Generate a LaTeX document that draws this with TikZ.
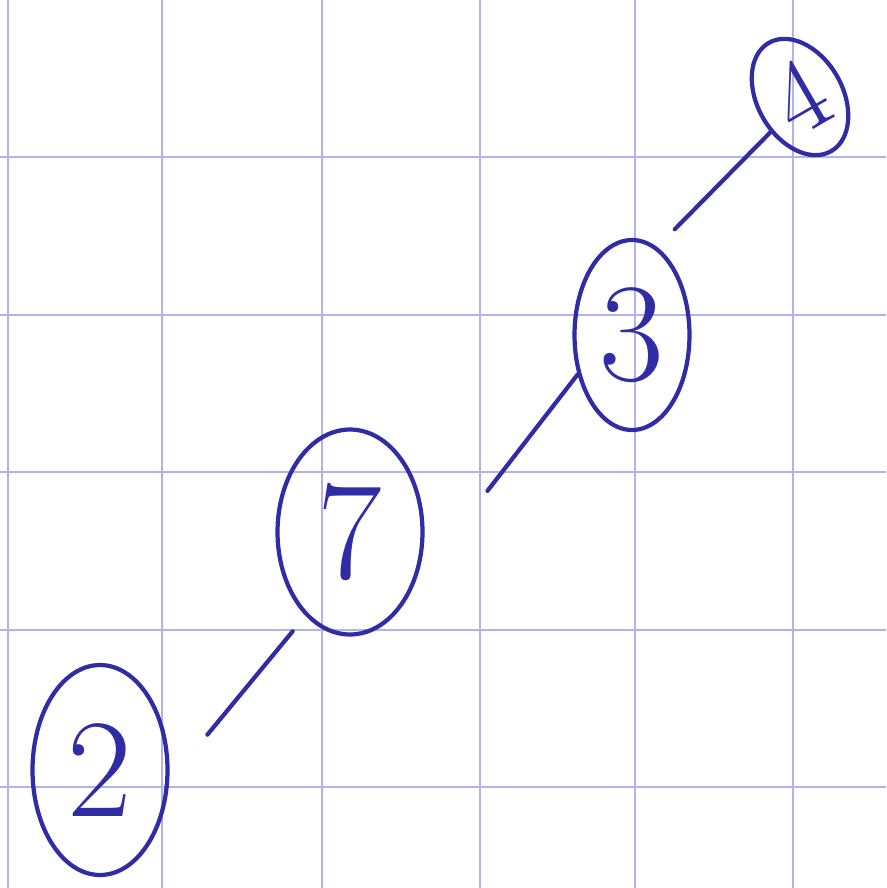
\documentclass[tikz,border=0pt]{standalone}
\usetikzlibrary{shapes.geometric}
\definecolor{pen}{RGB}{48,44,165}
\definecolor{gridc}{RGB}{178,178,236}
\tikzset{
  gridline/.style={draw=gridc,line width=1.3pt},
  ring/.style={ellipse,draw=pen,line width=2.4pt,inner sep=0pt,text=pen,font=\fontsize{80}{80}\selectfont},
  link/.style={draw=pen,line width=2.4pt,line cap=round}
}
\begin{document}
\begin{tikzpicture}[x=0.02cm,y=-0.02cm]
\fill[white] (0,0) rectangle (886,888);
\useasboundingbox (0,0) rectangle (886,888);
\foreach \gx in {8,162,322,480,635,793} \draw[gridline] (\gx,0) -- (\gx,888);
\foreach \gy in {157,315,472,630,787} \draw[gridline] (0,\gy) -- (886,\gy);
\node[ring,minimum width=2.7cm,minimum height=4.2cm] (n2) at (100,770) {2};
\node[ring,minimum width=2.9cm,minimum height=4.1cm] (n7) at (350,532) {7};
\node[ring,minimum width=2.3cm,minimum height=3.8cm] (n3) at (632,335) {3};
\node[ring,minimum width=1.7cm,minimum height=2.5cm,rotate=30,font=\fontsize{60}{60}\selectfont] (n4) at (800,97) {4};
\draw[link,shorten <=1.2cm,shorten >=0.4cm] (n2.-9) -- (n7.242);
\draw[link,shorten <=2.4cm] (n7.-40) -- (n3.216);
\draw[link,shorten <=0.5cm] (n3.74) -- (n4.200);
\end{tikzpicture}
\end{document}
